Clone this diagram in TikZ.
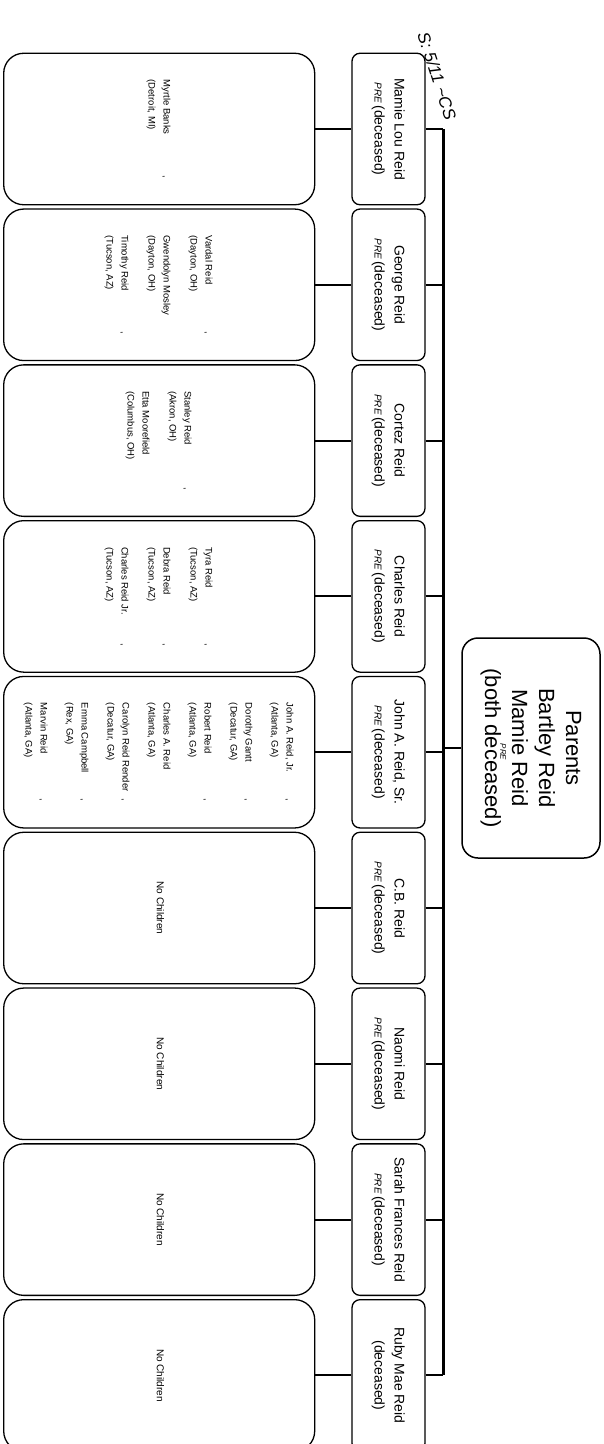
\documentclass[tikz,border=0pt]{standalone}
\usepackage{fontspec}
\setmainfont{Liberation Sans}
\usetikzlibrary{positioning}
% text turned a quarter clockwise, as on the scanned sheet
\newcommand{\turned}[1]{\rotatebox{-90}{\begin{tabular}{@{}c@{}}#1\end{tabular}}}
\newcommand{\kidlist}[1]{\rotatebox{-90}{\begin{tabular}{@{}l@{}}#1\end{tabular}}}
\newcommand{\gkid}[2]{\makebox[96pt][l]{#1}#2}
\newcommand{\pre}{{\itshape\fontsize{10}{10}\selectfont PRE}\,}

\begin{document}
\begin{tikzpicture}[x=1pt,y=-1pt]
\tikzset{kid/.style={draw, line width=1.3pt, rounded corners=8pt, minimum width=73pt, minimum height=151.5pt, inner sep=0pt, font=\fontsize{14}{20}\selectfont}}
\tikzset{grand/.style={draw, line width=1.3pt, rounded corners=20pt, minimum width=311pt, minimum height=151.5pt, inner sep=0pt, font=\fontsize{9.5}{15}\selectfont}}
\tikzset{parentbox/.style={draw, line width=1.5pt, rounded corners=16pt, minimum width=138pt, minimum height=220pt, inner sep=0pt, font=\fontsize{22}{27}\selectfont}}
\tikzset{link/.style={line width=2pt}, trunkline/.style={line width=3pt}, scrawl/.style={font=\itshape\fontsize{17}{17}\selectfont}}
\useasboundingbox (0,0) rectangle (604,1444);

% the parents
\node[parentbox] (parents) at (531,748) {\turned{Parents\\ Bartley Reid\\ Mamie Reid\\ (both deceased)}};
\node[scrawl, font=\itshape\fontsize{8}{8}\selectfont, rotate=-90] (parpre) at (503,752) {PRE};

% the children
\begin{scope}
\node[kid] (mamie) at (388.5,129) {\turned{Mamie Lou Reid\\ \pre(deceased)}};
\node[kid, below=3pt of mamie] (george) {\turned{George Reid\\ \pre(deceased)}};
\node[kid, below=3pt of george] (cortez) {\turned{Cortez Reid\\ \pre(deceased)}};
\node[kid, below=3pt of cortez] (charles) {\turned{Charles Reid\\ \pre(deceased)}};
\node[kid, below=3pt of charles] (john) {\turned{John A. Reid, Sr.\\ \pre(deceased)}};
\node[kid, below=3pt of john] (cb) {\turned{C.B. Reid\\ \pre(deceased)}};
\node[kid, below=3pt of cb] (naomi) {\turned{Naomi Reid\\ \pre(deceased)}};
\node[kid, below=3pt of naomi] (sarah) {\turned{Sarah Frances Reid\\ \pre(deceased)}};
\node[kid, below=3pt of sarah] (ruby) {\turned{Ruby Mae Reid\\ (deceased)}};
\end{scope}

% the grandchildren
\begin{scope}
\node[grand, left=36pt of mamie] (mamiekids) {\kidlist{\gkid{Myrtle Banks}{,}\\ (Detroit, MI)}};
\node[grand, left=36pt of george] (georgekids) {\kidlist{\gkid{Vardal Reid}{,}\\ (Dayton, OH)\\[12pt] \gkid{Gwendolyn Mosley}{}\\ (Dayton, OH)\\[12pt] \gkid{Timothy Reid}{,}\\ (Tucson, AZ)}};
\node[grand, left=36pt of cortez] (cortezkids) {\kidlist{\gkid{Stanley Reid}{,}\\ (Akron, OH)\\[12pt] \gkid{Etta Moorefield}{}\\ (Columbus, OH)}};
\node[grand, left=36pt of charles] (charleskids) {\kidlist{\gkid{Tyra Reid}{,}\\ (Tucson, AZ)\\[12pt] \gkid{Debra Reid}{,}\\ (Tucson, AZ)\\[12pt] \gkid{Charles Reid Jr.}{,}\\ (Tucson, AZ)}};
\node[grand, left=36pt of john] (johnkids) {\kidlist{\gkid{John A. Reid, Jr.}{,}\\ (Atlanta, GA)\\[11pt] \gkid{Dorothy Gantt}{,}\\ (Decatur, GA)\\[11pt] \gkid{Robert Reid}{,}\\ (Atlanta, GA)\\[11pt] \gkid{Charles A. Reid}{}\\ (Atlanta, GA)\\[11pt] \gkid{Carolyn Reid Render}{,}\\ (Decatur, GA)\\[11pt] \gkid{Emma Campbell}{,}\\ (Rex, GA)\\[11pt] \gkid{Marvin Reid}{,}\\ (Atlanta, GA)}};
\node[grand, left=36pt of cb, font=\fontsize{10}{12}\selectfont] (cbkids) {\turned{No Children}};
\node[grand, left=36pt of naomi, font=\fontsize{10}{12}\selectfont] (naomikids) {\turned{No Children}};
\node[grand, left=36pt of sarah, font=\fontsize{10}{12}\selectfont] (sarahkids) {\turned{No Children}};
\node[grand, left=36pt of ruby, font=\fontsize{10}{12}\selectfont] (rubykids) {\turned{No Children}};
\end{scope}

\coordinate (trunk) at (443,0);
\draw[trunkline] (mamie.east -| trunk) -- (ruby.east -| trunk);
\draw[link] (mamie.east) -- (mamie.east -| trunk) (george.east) -- (george.east -| trunk) (cortez.east) -- (cortez.east -| trunk)
 (charles.east) -- (charles.east -| trunk) (john.east) -- (john.east -| trunk) (cb.east) -- (cb.east -| trunk)
 (naomi.east) -- (naomi.east -| trunk) (sarah.east) -- (sarah.east -| trunk) (ruby.east) -- (ruby.east -| trunk);
\draw[link] (parents.west) -- (parents.west -| trunk);
\draw[link] (mamiekids) -- (mamie) (georgekids) -- (george) (cortezkids) -- (cortez) (charleskids) -- (charles) (johnkids) -- (john)
 (cbkids) -- (cb) (naomikids) -- (naomi) (sarahkids) -- (sarah) (rubykids) -- (ruby);

% pencil note at the top
\node[scrawl, rotate=-72] (note) at (437,76) {S: 5/11 \textasciitilde CS};
\end{tikzpicture}
\end{document}
